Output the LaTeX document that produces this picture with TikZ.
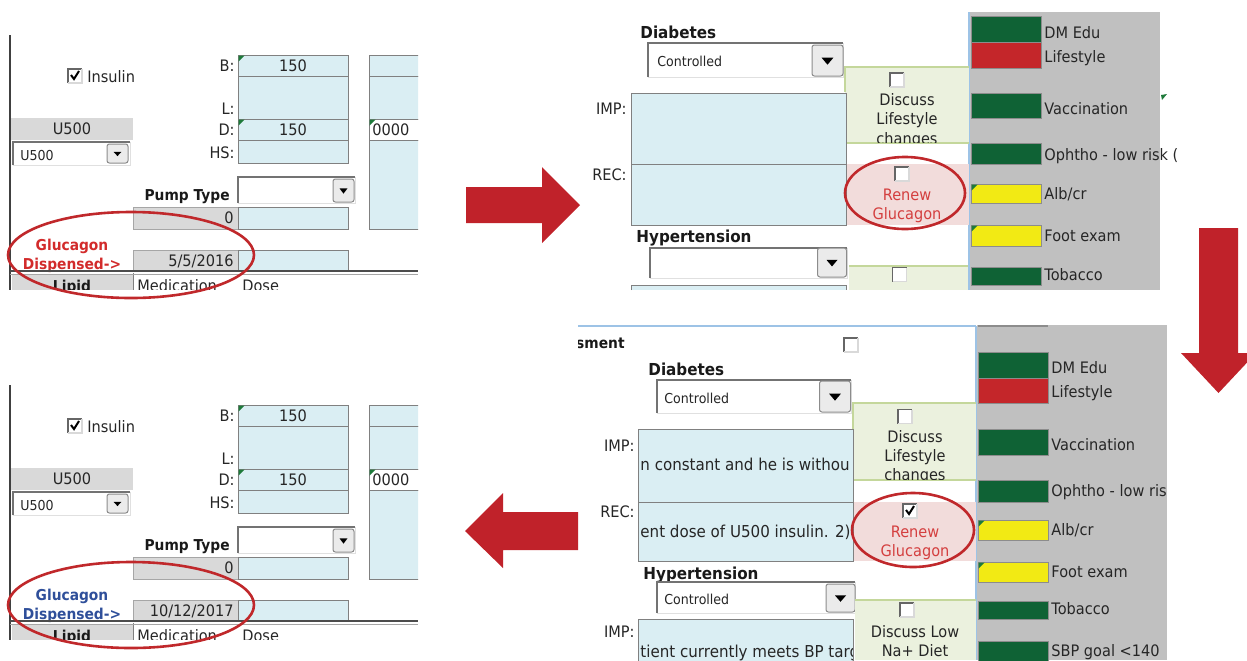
\documentclass[tikz,border=0pt]{standalone}
\usepackage{fontspec}
\setmainfont{DejaVu Sans}[FakeStretch=0.92]
\usetikzlibrary{positioning}

\definecolor{cellblue}{HTML}{DAEEF3}
\definecolor{cellgray}{HTML}{D9D9D9}
\definecolor{gridgray}{HTML}{808080}
\definecolor{notegreen}{HTML}{EBF1DE}
\definecolor{notegreenline}{HTML}{C4D79B}
\definecolor{alertpink}{HTML}{F2DCDB}
\definecolor{barGreen}{HTML}{0F6235}
\definecolor{barRed}{HTML}{C4262A}
\definecolor{barYellow}{HTML}{F2EA14}
\definecolor{flaggreen}{HTML}{1E7A3A}
\definecolor{panelgray}{HTML}{C0C0C0}
\definecolor{edgeblue}{HTML}{9DC3E6}
\definecolor{arrowred}{HTML}{C0222A}
\definecolor{ringred}{HTML}{C0282B}
\definecolor{dispred}{HTML}{D22B2B}
\definecolor{renewred}{HTML}{D43F3F}
\definecolor{dispblue}{HTML}{2F4F9A}

\tikzset{
  cell/.style={draw=gridgray, fill=cellblue, line width=0.5pt},
  graycell/.style={draw=gridgray!70, fill=cellgray, line width=0.5pt},
  ring/.style={draw=ringred, line width=1.3pt},
  bigarrow/.style={fill=arrowred},
  statusbar/.style={draw=black!45, line width=0.5pt},
  cornerflag/.style={fill=flaggreen},
  noteedge/.style={draw=notegreenline, line width=0.9pt},
  lbl/.style={font=\fontsize{7.9}{9}\selectfont, inner sep=0pt, text height=5.76pt, text depth=0pt, text=black!85},
  boxtxt/.style={font=\fontsize{8.2}{9}\selectfont, inner sep=0pt, text height=5.98pt, text depth=0pt, text=black!85},
  smalllbl/.style={font=\fontsize{6.85}{8}\selectfont, inner sep=0pt, text height=5pt, text depth=0pt, text=black!85},
  boldlbl/.style={font=\fontsize{7.5}{9}\selectfont\bfseries, inner sep=0pt, text height=5.47pt, text depth=0pt, text=black!90},
  headlbl/.style={font=\fontsize{8.25}{10}\selectfont\bfseries, inner sep=0pt, text height=6pt, text depth=0pt, text=black!90},
  chkbox/.pic={
    \fill[white] (-7,-7) rectangle (7,7);
    \draw[black!60, line width=0.6pt] (-7,7) -- (-7,-7) -- (7,-7);
    \draw[black!15, line width=0.6pt] (-7,7) -- (7,7) -- (7,-7);
  },
  tickbox/.pic={
    \pic {chkbox};
    \draw[black, line width=1pt] (-4,-1) -- (-1,3) -- (4,-5);
  },
  pics/dropbtn/.style 2 args={code={
    \draw[black!45, fill=black!8, rounded corners=1.2pt, line width=0.5pt] (-#1,-#2) rectangle (#1,#2);
    \fill[black] ({-0.38*#1},{-0.18*#2}) -- ({0.38*#1},{-0.18*#2}) -- (0,{0.27*#2}) -- cycle;
  }}
}

% sunken drop-down field: x1 y1 x2 y2
\newcommand{\ddfield}[4]{%
  \fill[white] (#1,#2) rectangle (#3,#4);
  \draw[black!55, line width=0.7pt] (#1,#4) -- (#1,#2) -- (#3,#2);
  \draw[black!12, line width=0.5pt] (#3,#2) -- (#3,#4) -- (#1,#4);
}

% insulin block: shift, date, colour, prefix
\newcommand{\insulinpanel}[4]{%
\begin{scope}[shift={(0,#1)}, name prefix=#4-]
  \draw[black!75, line width=1pt] (10,35) -- (10,290);
  \pic at (75,76) {tickbox};
  \node[lbl, anchor=west] (insulin) at (87,77) {Insulin};
  \node[lbl, anchor=east] (blbl) at (235,66) {B:};
  \node[lbl, anchor=east] (llbl) at (235,109) {L:};
  \node[lbl, anchor=east] (dlbl) at (235,130) {D:};
  \node[lbl, anchor=east] (hslbl) at (235,153) {HS:};
  \draw[cell] (238,55) rectangle (348,76);
  \draw[cell] (238,76) rectangle (348,119);
  \draw[cell] (238,119) rectangle (348,140);
  \draw[cell] (238,140) rectangle (348,163);
  \fill[cornerflag] (238.5,55.5) -- ++(6,0) -- ++(-6,6) -- cycle;
  \fill[cornerflag] (238.5,119.5) -- ++(6,0) -- ++(-6,6) -- cycle;
  \node[lbl] (bval) at (293,66) {150};
  \node[lbl] (dval) at (293,130) {150};
  \begin{scope}
    \clip (360,40) rectangle (418,240);
    \draw[cell] (369,55) rectangle (430,76);
    \draw[cell] (369,76) rectangle (430,119);
    \draw[draw=gridgray, fill=white, line width=0.5pt] (369,119) rectangle (430,140);
    \draw[cell] (369,140) rectangle (430,229);
    \fill[cornerflag] (369.5,119.5) -- ++(6,0) -- ++(-6,6) -- cycle;
    \node[lbl, anchor=west] (zeros) at (372,130) {0000};
  \end{scope}
  \fill[cellgray] (11,118) rectangle (133,140);
  \node[lbl] (u500head) at (72,129) {U500};
  \ddfield{13}{142}{130}{165}
  \node[smalllbl, anchor=west] (u500pick) at (20,155) {U500};
  \pic at (117.5,153.5) {dropbtn={10.5}{9.5}};
  \node[boldlbl, anchor=east] (pumptype) at (230,195) {Pump Type};
  \ddfield{238}{177}{355}{203}
  \pic at (343.5,190.5) {dropbtn={10.5}{11.5}};
  \draw[graycell] (133,207) rectangle (238,229);
  \node[lbl, anchor=east] (pumpval) at (234,218) {0};
  \draw[cell] (238,207) rectangle (348,229);
  \node[boldlbl, text=#3] (gluc) at (72,245) {Glucagon};
  \node[boldlbl, text=#3, below=3.53pt of gluc] (disp) {Dispensed->};
  \draw[graycell] (133,250) rectangle (238,270);
  \node[lbl, anchor=east] (date) at (234,261) {#2};
  \draw[cell] (238,250) rectangle (348,270);
  \begin{scope}
    \clip (0,273) rectangle (420,289);
    \fill[cellgray] (12,274) rectangle (133,292);
    \draw[gridgray, line width=0.5pt] (133,273) -- (133,292);
    \node[boldlbl] (lipid) at (72,286) {Lipid};
    \node[lbl, anchor=west] (med) at (137,286) {Medication};
    \node[lbl, anchor=west] (dose) at (242,286) {Dose};
  \end{scope}
  \draw[black!70, line width=1pt] (10,271) -- (418,271);
  \draw[black!35, line width=0.5pt] (10,274) -- (418,274);
  \draw[ring] (131,255) ellipse [x radius=123, y radius=43];
\end{scope}}

\begin{document}
\begin{tikzpicture}[x=0.5pt, y=-0.5pt]
\useasboundingbox (0,0) rectangle (1247,660);
\clip (0,0) rectangle (1247,660);

% left: before / after
\insulinpanel{0}{5/5/2016}{dispred}{top}
\insulinpanel{350}{10/12/2017}{dispblue}{bot}

% block arrows
\fill[bigarrow] (466,187) -- (542,187) -- (542,167) -- (580,205) -- (542,243) -- (542,223) -- (466,223) -- cycle;
\fill[bigarrow] (1199,228) -- (1238,228) -- (1238,353) -- (1256,353) -- (1218.5,393) -- (1181,353) -- (1199,353) -- cycle;
\fill[bigarrow] (578,512) -- (503,512) -- (503,493) -- (465,531) -- (503,568) -- (503,550) -- (578,550) -- cycle;

% top right: status panel
\fill[panelgray] (969,12) rectangle (1160,290);
\draw[edgeblue, line width=1pt] (969,12) -- (969,290);
\foreach \ya/\yb/\col/\ty/\txt [count=\i] in {16/42/barGreen/33/DM Edu, 42/68/barRed/57/Lifestyle,
    93/118/barGreen/109/Vaccination, 184/203/barYellow/194/{Alb/cr},
    225/246/barYellow/236/Foot exam, 267/285/barGreen/275/Tobacco}{
  \draw[statusbar, fill=\col] (971,\ya) rectangle (1041,\yb);
  \node[lbl, anchor=west] (tr-item\i) at (1044,\ty) {\txt};
}
\fill[cornerflag] (971.5,184.5) -- ++(6,0) -- ++(-6,6) -- cycle;
\fill[cornerflag] (971.5,225.5) -- ++(6,0) -- ++(-6,6) -- cycle;
\draw[statusbar, fill=barGreen] (971,143) rectangle (1041,164);
\begin{scope}
  \clip (1042,140) rectangle (1180,170);
  \node[lbl, anchor=west] (tr-ophtho) at (1044,155) {Ophtho - low risk (};
\end{scope}
\fill[cornerflag] (1161,95) -- (1167,94) -- (1162,100) -- cycle;

% top right: diabetes form
\node[headlbl, anchor=west] (tr-diab) at (640,32) {Diabetes};
\ddfield{648}{43}{843}{77}
\node[smalllbl, anchor=west] (tr-ctrl) at (657,61) {Controlled};
\pic at (827.5,60.5) {dropbtn={15.5}{15.5}};
\fill[notegreen] (845,67) rectangle (969,143);
\draw[noteedge] (845,92) -- (845,67) -- (969,67);
\draw[noteedge] (845,143) -- (969,143);
\pic at (897,80) {chkbox};
\node[lbl] (tr-discuss) at (907,100) {Discuss};
\node[lbl, below=3.24pt of tr-discuss] (tr-life) {Lifestyle};
\begin{scope}
  \clip (845,67) rectangle (969,142.5);
  \node[lbl, below=3.7pt of tr-life] (tr-changes) {changes};
\end{scope}
\node[lbl, anchor=east] (tr-imp) at (627,109) {IMP:};
\node[lbl, anchor=east] (tr-rec) at (627,175) {REC:};
\fill[alertpink] (846,164) rectangle (969,225);
\draw[cell] (631,93) rectangle (846,164);
\draw[cell] (631,164) rectangle (846,225);
\pic at (902,174) {chkbox};
\node[lbl, text=renewred] (tr-renew) at (907,195) {Renew};
\node[lbl, text=renewred, below=3.24pt of tr-renew] (tr-gluc) {Glucagon};
\draw[ring] (905,193) ellipse [x radius=60, y radius=36];
\node[headlbl, anchor=west] (tr-hyp) at (636,236) {Hypertension};
\ddfield{650}{248}{847}{278}
\pic at (832,262.5) {dropbtn={14.5}{14.5}};
\fill[notegreen] (849,266) rectangle (968,290);
\draw[noteedge] (849,266) -- (968,266);
\pic at (899.5,274.5) {chkbox};
\fill[cellblue] (631,285) rectangle (846,290);
\draw[gridgray, line width=0.5pt] (631,290) -- (631,285) -- (846,285) -- (846,290);

% bottom right: status panel
\draw[edgeblue, line width=0.8pt] (578,326) -- (976,326);
\fill[panelgray] (977,325) rectangle (1167,660);
\draw[edgeblue, line width=1pt] (976,326) -- (976,660);
\draw[black!45, line width=1pt] (978,326) -- (1048,326);
\foreach \ya/\yb/\col/\ty/\txt [count=\i] in {352/378/barGreen/368/DM Edu, 378/403/barRed/392/Lifestyle,
    429/455/barGreen/445/Vaccination, 520/540/barYellow/530/{Alb/cr},
    562/582/barYellow/572/Foot exam, 601/619/barGreen/609/Tobacco, 641/664/barGreen/651/SBP goal <140}{
  \draw[statusbar, fill=\col] (978,\ya) rectangle (1048,\yb);
  \node[lbl, anchor=west] (br-item\i) at (1051,\ty) {\txt};
}
\fill[cornerflag] (978.5,520.5) -- ++(6,0) -- ++(-6,6) -- cycle;
\fill[cornerflag] (978.5,562.5) -- ++(6,0) -- ++(-6,6) -- cycle;
\draw[statusbar, fill=barGreen] (978,480) rectangle (1048,502);
\begin{scope}
  \clip (1049,475) rectangle (1167,505);
  \node[lbl, anchor=west] (br-ophtho) at (1051,491) {Ophtho - low ris};
\end{scope}

% bottom right: diabetes form
\begin{scope}
  \clip (578,330) rectangle (700,360);
  \node[boldlbl, anchor=east] (br-sment) at (625,343) {sment};
\end{scope}
\pic at (851,345) {chkbox};
\node[headlbl, anchor=west] (br-diab) at (648,369) {Diabetes};
\ddfield{657}{380}{851}{413}
\node[smalllbl, anchor=west] (br-ctrl) at (664,398) {Controlled};
\pic at (835,396.5) {dropbtn={15.5}{15.5}};
\fill[notegreen] (853,403) rectangle (976,480);
\draw[noteedge] (853,429) -- (853,403) -- (976,403);
\draw[noteedge] (853,480) -- (976,480);
\pic at (905,416.5) {chkbox};
\node[lbl] (br-discuss) at (915,437) {Discuss};
\node[lbl, below=3.24pt of br-discuss] (br-life) {Lifestyle};
\begin{scope}
  \clip (853,403) rectangle (976,479.5);
  \node[lbl, below=3.24pt of br-life] (br-changes) {changes};
\end{scope}
\node[lbl, anchor=east] (br-imp) at (635,446) {IMP:};
\node[lbl, anchor=east] (br-rec) at (635,512) {REC:};
\fill[alertpink] (853,502) rectangle (976,561);
\draw[cell] (638,429) rectangle (853,502);
\draw[cell] (638,502) rectangle (853,561);
\begin{scope}
  \clip (638,429) rectangle (852.5,561);
  \node[boxtxt, anchor=west] (br-imptext) at (640,465) {n constant and he is withou};
  \node[boxtxt, anchor=west] (br-rectext) at (640,532) {ent dose of U500 insulin. 2)};
\end{scope}
\pic at (910,511) {tickbox};
\node[lbl, text=renewred] (br-renew) at (915,532) {Renew};
\node[lbl, text=renewred, below=3.24pt of br-renew] (br-gluc) {Glucagon};
\draw[ring] (913,530) ellipse [x radius=61, y radius=37];
\node[headlbl, anchor=west] (br-hyp) at (643,573) {Hypertension};
\ddfield{657}{582}{855}{613}
\begin{scope}
  \clip (658,593) rectangle (826,612);
  \node[smalllbl, anchor=west] (br-ctrl2) at (664,599) {Controlled};
\end{scope}
\pic at (840.5,598) {dropbtn={14.5}{14}};
\fill[notegreen] (855,600) rectangle (976,660);
\draw[noteedge] (855,600) -- (976,600);
\pic at (907,610) {chkbox};
\node[lbl] (br-lowna) at (915,632) {Discuss Low};
\node[lbl, below=3.24pt of br-lowna] (br-diet) {Na+ Diet};
\node[lbl, anchor=east] (br-imp2) at (635,632) {IMP:};
\draw[cell] (638,619) rectangle (853,670);
\begin{scope}
  \clip (638,619) rectangle (852.5,660);
  \node[boxtxt, anchor=west] (br-bptext) at (640,652) {tient currently meets BP targ};
\end{scope}
\end{tikzpicture}
\end{document}
